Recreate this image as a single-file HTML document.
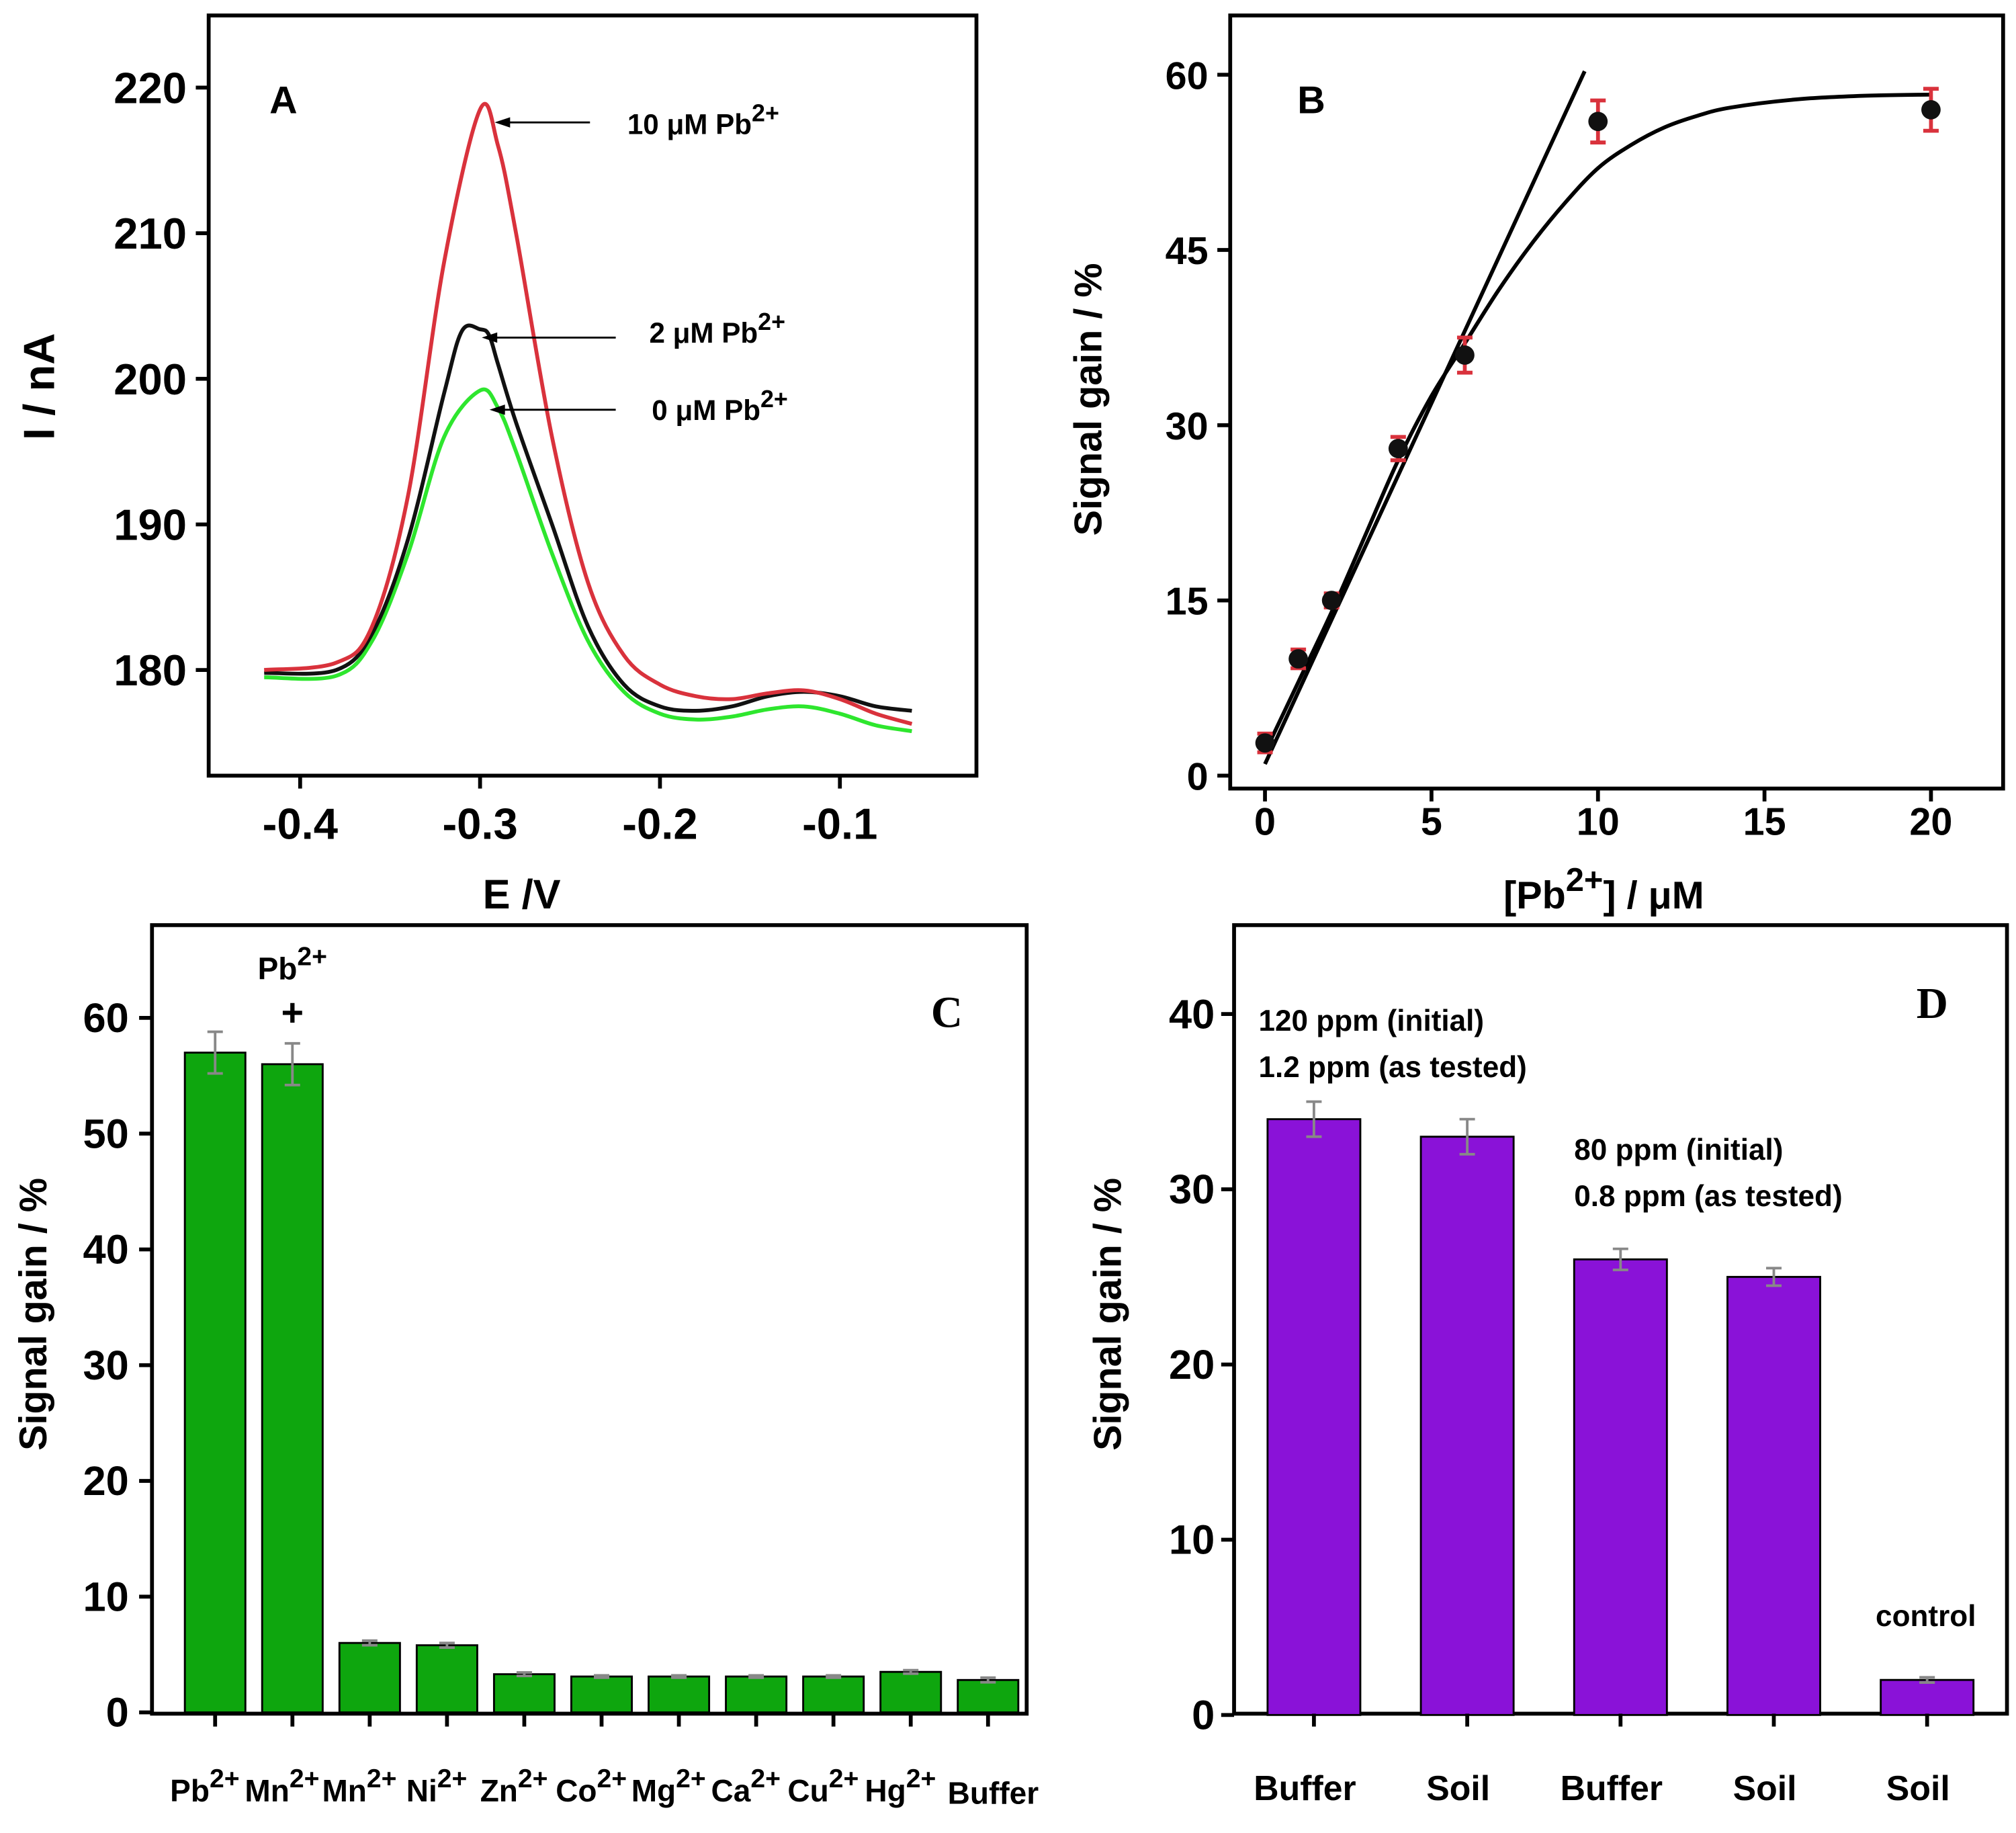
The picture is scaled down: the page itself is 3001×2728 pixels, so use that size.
<!DOCTYPE html>
<html><head><meta charset="utf-8"><style>
html,body{margin:0;padding:0;background:#fff;}
svg{display:block;}
text{font-family:"Liberation Sans",Arial,sans-serif;font-weight:bold;fill:#000;}
</style></head><body>
<svg id="fig" width="3001" height="2728" viewBox="0 0 1565 1422.6" preserveAspectRatio="none" xmlns="http://www.w3.org/2000/svg"></svg>
<script>
// ---------- Panel A data ----------
const aE_red=[-0.42,-0.38,-0.36,-0.34,-0.32,-0.30,-0.29,-0.28,-0.26,-0.24,-0.22,-0.20,-0.18,-0.16,-0.14,-0.12,-0.10,-0.08,-0.06];
const aI_red=[180,180.5,183,192,208,218.5,216,210,196,186,181,179,178.2,178,178.4,178.6,178,177,176.3];
const aE_black=[-0.42,-0.38,-0.36,-0.34,-0.32,-0.31,-0.30,-0.295,-0.29,-0.28,-0.26,-0.24,-0.22,-0.20,-0.18,-0.16,-0.14,-0.12,-0.10,-0.08,-0.06];
const aI_black=[179.8,180,182.5,189,199,203.3,203.4,203,201,197,190,183,179,177.5,177.2,177.5,178.2,178.5,178.2,177.5,177.2];
const aE_green=[-0.42,-0.38,-0.36,-0.34,-0.32,-0.30,-0.29,-0.28,-0.26,-0.24,-0.22,-0.20,-0.18,-0.16,-0.14,-0.12,-0.10,-0.08,-0.06];
const aI_green=[179.5,179.6,182,188,196,199.2,198,195,188,182,178.5,177,176.6,176.8,177.3,177.5,177,176.2,175.8];
const aXTicks=[-0.4,-0.3,-0.2,-0.1];
const aYTicks=[180,190,200,210,220];
// ---------- Panel B data ----------
const bX=[0,1,2,4,6,10,20];
const bY=[2.8,10,15,28,36,56,57];
const bErr=[0.8,0.8,0.6,1,1.5,1.8,1.8];
const bLinX=[0,9.6];
const bLinY=[1,60.3];
const bFitX=[0,1,2,3,4,5,6,7,8,9,10,11,12,13,14,16,18,20];
const bFitY=[2,8,14,20.5,27,32.5,37,41.5,45.5,49,52,54,55.5,56.5,57.2,57.9,58.2,58.3];
const bXTicks=[0,5,10,15,20];
const bYTicks=[0,15,30,45,60];
// ---------- Panel C data ----------
const cLabels=["Pb","Mn","Mn","Ni","Zn","Co","Mg","Ca","Cu","Hg","Buffer"];
const cSup=["2+","2+","2+","2+","2+","2+","2+","2+","2+","2+",""];
const cVals=[57,56,6,5.8,3.3,3.1,3.1,3.1,3.1,3.5,2.8];
const cErr=[1.8,1.8,0.2,0.2,0.15,0.1,0.1,0.1,0.1,0.15,0.2];
const cYTicks=[0,10,20,30,40,50,60];
// ---------- Panel D data ----------
const dLabels=["Buffer","Soil","Buffer","Soil","Soil"];
const dVals=[34,33,26,25,2];
const dErr=[1,1,0.6,0.5,0.15];
const dYTicks=[0,10,20,30,40];

const svg=document.getElementById('fig');
const NS="http://www.w3.org/2000/svg";
function el(tag,attrs,name,parent){
  const e=document.createElementNS(NS,tag);
  for(const k in attrs)e.setAttribute(k,attrs[k]);
  
  
  (parent||svg).appendChild(e);return e;
}
function txt(x,y,s,size,name,opts){
  opts=opts||{};
  const t=el('text',{x:x,y:y,'font-size':size,'text-anchor':opts.anchor||'middle'},name);
  if(opts.serif)t.setAttribute('style','font-family:"Liberation Serif",serif');
  if(opts.rot)t.setAttribute('transform','rotate(-90 '+x+' '+y+')');
  t.textContent=s;
  if(opts.sup){const ts=document.createElementNS(NS,'tspan');ts.setAttribute('dy',-size*0.45);ts.setAttribute('font-size',size*0.85);ts.textContent=opts.sup;t.appendChild(ts);
    if(opts.after){const t2=document.createElementNS(NS,'tspan');t2.setAttribute('dy',size*0.45);t2.textContent=opts.after;t.appendChild(t2);}}
  return t;
}
function lin(d0,d1,p0,p1){return v=>p0+(v-d0)*(p1-p0)/(d1-d0);}
function smoothPath(P){
  let d='M'+P[0][0]+','+P[0][1];
  for(let i=0;i<P.length-1;i++){
    const p0=P[i-1]||P[i],p1=P[i],p2=P[i+1],p3=P[i+2]||P[i+1];
    const c1=[p1[0]+(p2[0]-p0[0])/6,p1[1]+(p2[1]-p0[1])/6];
    const c2=[p2[0]-(p3[0]-p1[0])/6,p2[1]-(p3[1]-p1[1])/6];
    d+=' C'+c1[0]+','+c1[1]+' '+c2[0]+','+c2[1]+' '+p2[0]+','+p2[1];
  }
  return d;
}
function curve(X,Y,fx,fy,color,name){
  const P=X.map((x,i)=>[fx(x),fy(Y[i])]);
  el('path',{d:smoothPath(P),fill:'none',stroke:color,'stroke-width':3,'stroke-linejoin':'round'},name);
}

// ===== Panel A =====
const axA=lin(-0.4,-0.1,233,652), ayA=lin(180,220,520,68);
el('rect',{x:162,y:12,width:596,height:590,fill:'none',stroke:'#000','stroke-width':3},'panel-a-frame');
aXTicks.forEach(v=>{el('line',{x1:axA(v),y1:602,x2:axA(v),y2:612,stroke:'#000','stroke-width':3},'a-x-tick');txt(axA(v),651,v.toFixed(1),34,'a-x-tick-label');});
aYTicks.forEach(v=>{el('line',{x1:152,y1:ayA(v),x2:162,y2:ayA(v),stroke:'#000','stroke-width':3},'a-y-tick');txt(145,ayA(v)+12,String(v),34,'a-y-tick-label',{anchor:'end'});});
txt(405,705,'E /V',32,'a-x-axis-title');
txt(42,300,'I / nA',34,'a-y-axis-title',{rot:true});
curve(aE_green,aI_green,axA,ayA,'#2ee62e','curve-0uM');
curve(aE_black,aI_black,axA,ayA,'#111','curve-2uM');
curve(aE_red,aI_red,axA,ayA,'#d9323c','curve-10uM');
txt(220,88,'A',30,'panel-a-label');
function arrow(x1,y,x2,name){el('line',{x1:x1,y1:y,x2:x2+8,y2:y,stroke:'#000','stroke-width':1.5},name);el('polygon',{points:`${x2},${y} ${x2+12},${y-4} ${x2+12},${y+4}`,fill:'#000'},name+'-head');}
arrow(458,95,384,'arrow-10uM'); txt(487,104,'10 μM Pb',22,'label-10uM',{anchor:'start',sup:'2+'});
arrow(478,262,374,'arrow-2uM'); txt(504,266,'2 μM Pb',22,'label-2uM',{anchor:'start',sup:'2+'});
arrow(478,318,380,'arrow-0uM'); txt(506,326,'0 μM Pb',22,'label-0uM',{anchor:'start',sup:'2+'});

// ===== Panel B =====
const axB=lin(0,20,982,1499), ayB=lin(0,60,602,58);
el('rect',{x:955,y:12,width:600,height:600,fill:'none',stroke:'#000','stroke-width':3},'panel-b-frame');
bXTicks.forEach(v=>{el('line',{x1:axB(v),y1:612,x2:axB(v),y2:622,stroke:'#000','stroke-width':3},'b-x-tick');txt(axB(v),648,String(v),30,'b-x-tick-label');});
bYTicks.forEach(v=>{el('line',{x1:945,y1:ayB(v),x2:955,y2:ayB(v),stroke:'#000','stroke-width':3},'b-y-tick');txt(938,ayB(v)+11,String(v),30,'b-y-tick-label',{anchor:'end'});});
txt(1245,705,'[Pb',30,'b-x-axis-title',{sup:'2+',after:'] / μM'});
txt(855,310,'Signal gain / %',30,'b-y-axis-title',{rot:true});
txt(1018,88,'B',30,'panel-b-label');
curve(bFitX,bFitY,axB,ayB,'#000','b-fit-curve');
curve(bLinX,bLinY,axB,ayB,'#000','b-linear-fit');
bX.forEach((x,i)=>{const cx=axB(x);
  el('line',{x1:cx,y1:ayB(bY[i]-bErr[i]),x2:cx,y2:ayB(bY[i]+bErr[i]),stroke:'#d9323c','stroke-width':3},'b-error-bar');
  [bY[i]-bErr[i],bY[i]+bErr[i]].forEach(v=>el('line',{x1:cx-6,y1:ayB(v),x2:cx+6,y2:ayB(v),stroke:'#d9323c','stroke-width':3},'b-error-cap'));
  el('circle',{cx:cx,cy:ayB(bY[i]),r:7.5,fill:'#111'},'b-point');});

// ===== Panel C =====
const ayC=lin(0,60,1329,790); const cX0=167,cStep=60,cW=47;
el('rect',{x:118,y:718,width:679,height:612,fill:'none',stroke:'#000','stroke-width':3},'panel-c-frame');
cYTicks.forEach(v=>{el('line',{x1:108,y1:ayC(v),x2:118,y2:ayC(v),stroke:'#000','stroke-width':3},'c-y-tick');txt(100,ayC(v)+11,String(v),32,'c-y-tick-label',{anchor:'end'});});
txt(36,1020,'Signal gain / %',30,'c-y-axis-title',{rot:true});
cVals.forEach((v,i)=>{const cx=cX0+i*cStep;
  el('rect',{x:cx-cW/2,y:ayC(v),width:cW,height:ayC(0)-ayC(v),fill:'#0ea60e',stroke:'#000','stroke-width':1.5},'c-bar-'+cLabels[i].toLowerCase());
  el('line',{x1:cx,y1:ayC(v-cErr[i]),x2:cx,y2:ayC(v+cErr[i]),stroke:'#888','stroke-width':2},'c-error-bar');
  [v-cErr[i],v+cErr[i]].forEach(e=>el('line',{x1:cx-6,y1:ayC(e),x2:cx+6,y2:ayC(e),stroke:'#888','stroke-width':2},'c-error-cap'));
  el('line',{x1:cx,y1:1330,x2:cx,y2:1340,stroke:'#000','stroke-width':3},'c-x-tick');
  if(cSup[i])txt(cx-8,1398,cLabels[i],24,'c-x-tick-label',{sup:cSup[i]});else txt(cx+4,1400,cLabels[i],24,'c-x-tick-label');});
txt(227,760,'Pb',24,'c-annotation-pb',{sup:'2+'});
txt(227,796,'+',30,'c-annotation-plus');
txt(735,797,'C',34,'panel-c-label',{serif:true});

// ===== Panel D =====
const ayD=lin(0,40,1331,787); const dX0=1020,dStep=119,dW=72;
el('rect',{x:958,y:718,width:600,height:612,fill:'none',stroke:'#000','stroke-width':3},'panel-d-frame');
dYTicks.forEach(v=>{el('line',{x1:948,y1:ayD(v),x2:958,y2:ayD(v),stroke:'#000','stroke-width':3},'d-y-tick');txt(943,ayD(v)+11,String(v),32,'d-y-tick-label',{anchor:'end'});});
txt(870,1020,'Signal gain / %',30,'d-y-axis-title',{rot:true});
dVals.forEach((v,i)=>{const cx=dX0+i*dStep;
  el('rect',{x:cx-dW/2,y:ayD(v),width:dW,height:ayD(0)-ayD(v),fill:'#8a12d8',stroke:'#000','stroke-width':1.5},'d-bar-'+i);
  el('line',{x1:cx,y1:ayD(v-dErr[i]),x2:cx,y2:ayD(v+dErr[i]),stroke:'#888','stroke-width':2},'d-error-bar');
  [v-dErr[i],v+dErr[i]].forEach(e=>el('line',{x1:cx-6,y1:ayD(e),x2:cx+6,y2:ayD(e),stroke:'#888','stroke-width':2},'d-error-cap'));
  el('line',{x1:cx,y1:1330,x2:cx,y2:1340,stroke:'#000','stroke-width':3},'d-x-tick');
  txt(cx-7,1397,dLabels[i],27,'d-x-tick-label');});
txt(977,800,'120 ppm (initial)',23,'d-note-120ppm',{anchor:'start'});
txt(977,836,'1.2 ppm (as tested)',23,'d-note-1-2ppm',{anchor:'start'});
txt(1222,900,'80 ppm (initial)',23,'d-note-80ppm',{anchor:'start'});
txt(1222,936,'0.8 ppm (as tested)',23,'d-note-0-8ppm',{anchor:'start'});
txt(1495,1262,'control',23,'d-note-control');
txt(1500,790,'D',34,'panel-d-label',{serif:true});
</script>
</body></html>
